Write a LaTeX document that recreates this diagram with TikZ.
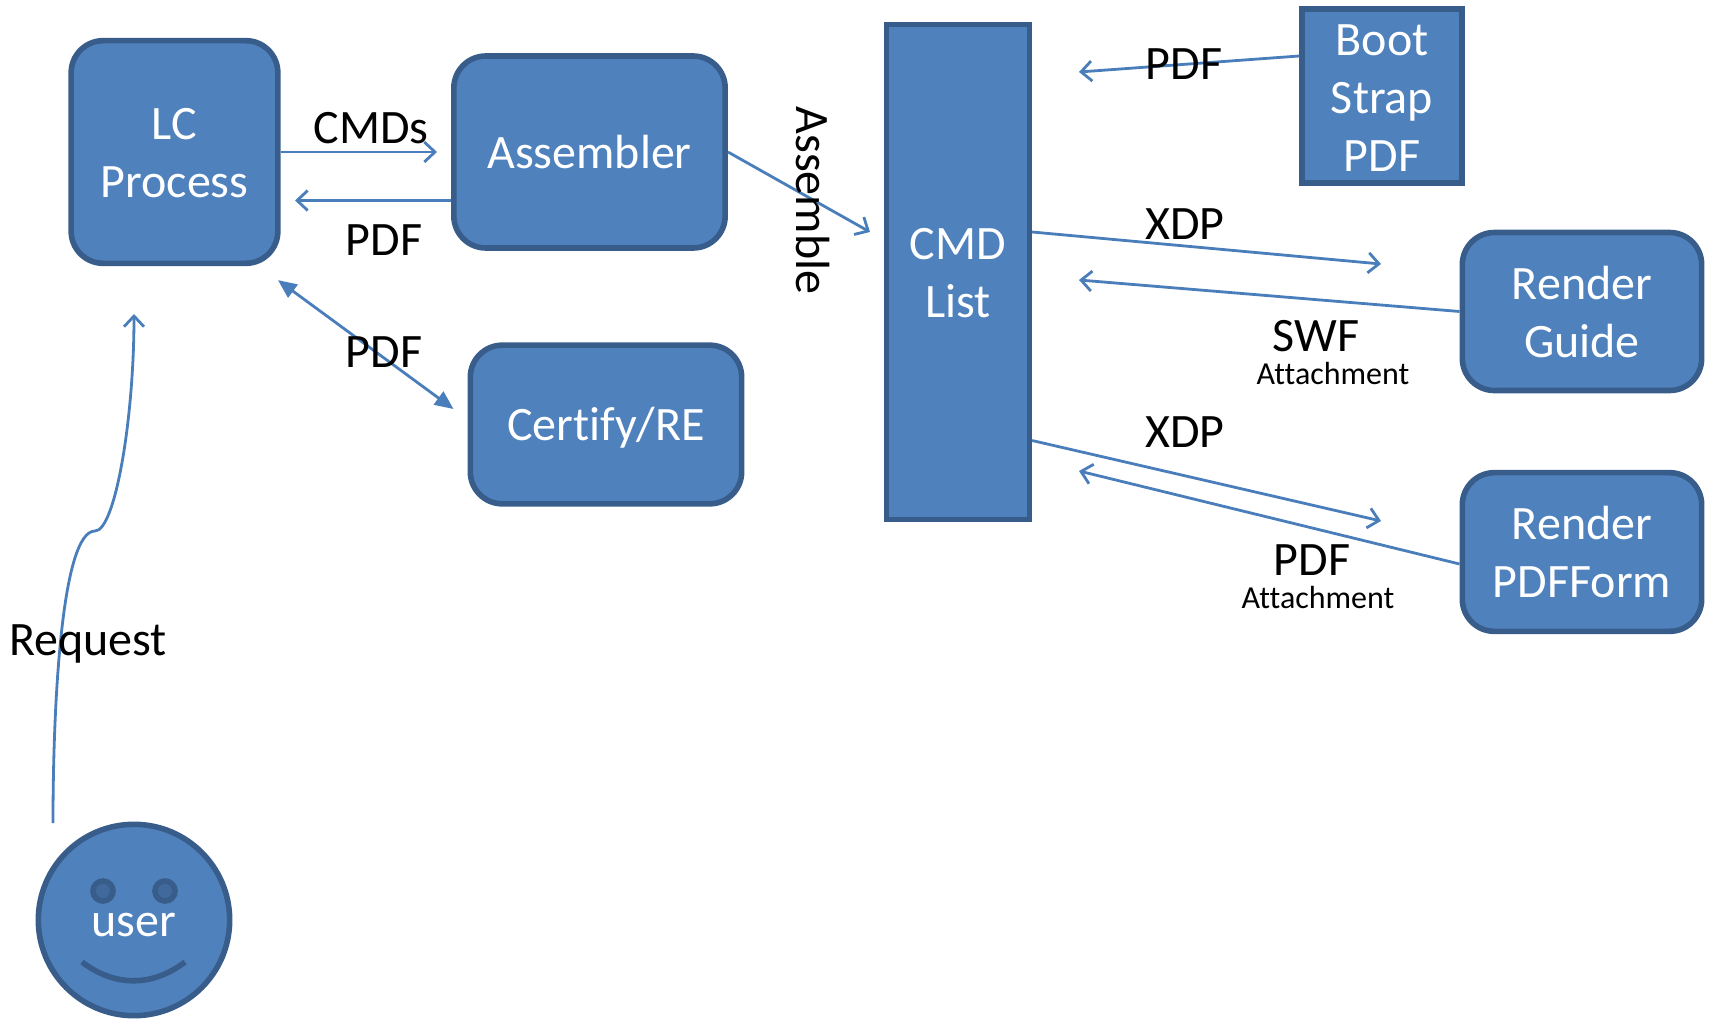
\documentclass[tikz,border=0pt]{standalone}
\usepackage{fontspec}
\setmainfont[Ligatures=NoCommon]{Carlito}
\usetikzlibrary{arrows.meta}
\definecolor{fillblue}{HTML}{4F81BD}
\definecolor{edgeblue}{HTML}{385D8A}
\definecolor{lineblue}{HTML}{4A7EBB}
\definecolor{eyeblue}{HTML}{41699B}
\newcommand{\lowertxt}[2]{\raisebox{-#1}[\height][\depth]{#2}}
\tikzset{
  x=0.75pt,y=-0.75pt,
  boxtxt/.style={text=white,align=center,font=\fontsize{36}{43.3}\selectfont,inner sep=0pt},
  shapebox/.style={draw=edgeblue,fill=fillblue,line width=4.2pt,boxtxt},
  roundbox/.style={shapebox,rectangle,rounded corners=24pt},
  lbl/.style={text=black,font=\fontsize{36}{43}\selectfont,inner sep=0pt},
  smalllbl/.style={text=black,font=\fontsize{24}{29}\selectfont,inner sep=0pt},
  conn/.style={draw=lineblue,line width=2.1pt,-{Straight Barb[length=8pt,width=15pt,line width=2.1pt]}},
  dbl/.style={draw=lineblue,line width=2.1pt,{Triangle[length=14pt,width=12pt]}-{Triangle[length=14pt,width=12pt]}},
}
\begin{document}
\begin{tikzpicture}
\useasboundingbox (0,0) rectangle (1709,1020);
% boxes
\node[roundbox,minimum width=155pt,minimum height=167pt] (lc) at (174.5,152) {\lowertxt{0.8pt}{LC}\\\lowertxt{0.8pt}{Process}};
\node[roundbox,minimum width=203.5pt,minimum height=144pt] (asm) at (589.5,152) {Assembler};
\node[roundbox,minimum width=203.5pt,minimum height=119pt] (cert) at (606,424.5) {\lowertxt{2.2pt}{Certify/RE}};
\node[shapebox,rectangle,minimum width=107pt,minimum height=371.5pt] (cmd) at (958,272) {\lowertxt{0.8pt}{CMD}\\\lowertxt{0.8pt}{List}};
\node[shapebox,rectangle,minimum width=120pt,minimum height=130.5pt] (boot) at (1382,96) {\lowertxt{1.5pt}{Boot}\\\lowertxt{1.5pt}{Strap}\\\lowertxt{1.5pt}{PDF}};
\node[roundbox,minimum width=179.5pt,minimum height=118.5pt] (guide) at (1582,311.5) {Render\\\lowertxt{0.8pt}{Guide}};
\node[roundbox,minimum width=179.5pt,minimum height=119pt] (form) at (1582,552) {Render\\PDFForm};
% user face
\node[circle,draw=edgeblue,fill=fillblue,line width=4.2pt,minimum size=143.5pt,inner sep=0pt] (face) at (134,920) {};
\node[circle,draw=edgeblue,fill=eyeblue,line width=4.2pt,minimum size=15pt,inner sep=0pt] (eyeL) at (103,891) {};
\node[circle,draw=edgeblue,fill=eyeblue,line width=4.2pt,minimum size=15pt,inner sep=0pt] (eyeR) at (165,891) {};
\draw[edgeblue,line width=4.2pt] (82,962) .. controls (115,987) and (152,987) .. (185,962);
\node[boxtxt] (user) at (134,925) {user};
% free ends
\coordinate (cA) at (437,152);
\coordinate (cB) at (295,200.5);
\coordinate (cC) at (870,232);
\coordinate (cD) at (1079,72);
\coordinate (cE) at (1381,264);
\coordinate (cF) at (1079,280);
\coordinate (cG) at (1381,521);
\coordinate (cH) at (1079,471);
\coordinate (rS) at (53,823);
\coordinate (rM) at (95,531);
\coordinate (rE) at (134,314);
% connectors
\draw[conn] (lc.east) -- (cA);
\draw[conn] ([yshift=-36.4pt]asm.west) -- (cB);
\draw[conn] (asm.east) -- (cC);
\draw[dbl] ([xshift=-2pt,yshift=-10.5pt]lc.south east) -- ([xshift=-10.5pt,yshift=-50pt]cert.north west);
\draw[conn] ([yshift=30pt]boot.west) -- (cD);
\draw[conn] ([yshift=30pt]cmd.east) -- (cE);
\draw[conn] (guide.west) -- (cF);
\draw[conn] ([yshift=-126.4pt]cmd.east) -- (cG);
\draw[conn] ([yshift=-9pt]form.west) -- (cH);
\draw[conn] (rS) .. controls (53,700) and (62,531) .. (rM) .. controls (115,531) and (134,420) .. (rE);
% labels
\node[lbl] (l1) at (371,128) {CMDs};
\node[lbl] (l2) at (384,240) {PDF};
\node[lbl] (l3) at (384,352) {PDF};
\node[lbl,rotate=-90] (l4) at (813,200.5) {Assemble};
\node[lbl] (l5) at (1184,64) {PDF};
\node[lbl] (l6) at (1185,224) {XDP};
\node[lbl] (l7) at (1316,336) {SWF};
\node[smalllbl] (l8) at (1333,374) {Attachment};
\node[lbl] (l9) at (1185,432) {XDP};
\node[lbl] (l10) at (1312,560) {PDF};
\node[smalllbl] (l11) at (1318,598) {Attachment};
\node[lbl] (l12) at (88,644) {Request};
\end{tikzpicture}
\end{document}
